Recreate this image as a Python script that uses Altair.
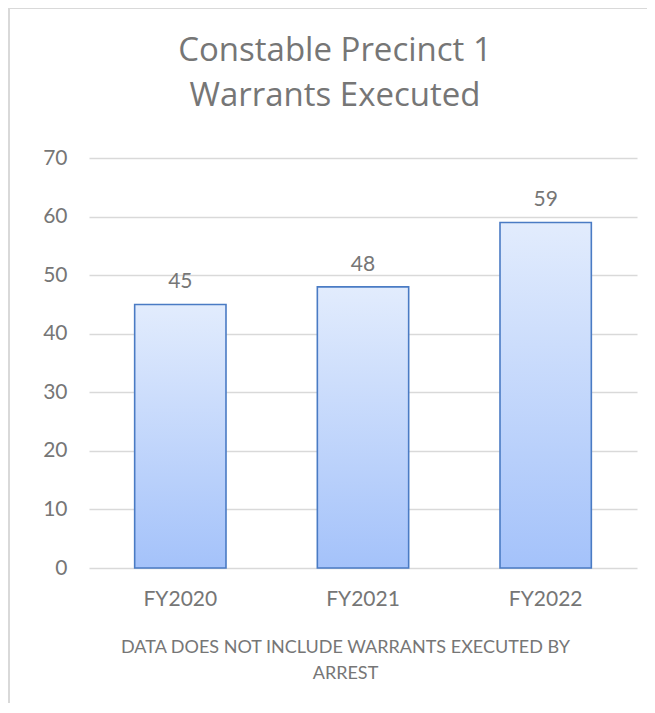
import altair as alt
import pandas as pd

years = ["FY2020", "FY2021", "FY2022"]
warrants = [45, 48, 59]
y_ticks = [0, 10, 20, 30, 40, 50, 60, 70]
title_lines = ["Constable Precinct 1", "Warrants Executed"]
note_lines = ["DATA DOES NOT INCLUDE WARRANTS EXECUTED BY", "ARREST"]

df = pd.DataFrame({"year": years, "value": warrants})

W, H = 548, 410
TEXT = "#767676"
FONT = "Lato"

gradient = alt.Gradient(
    gradient="linear",
    x1=0, x2=0, y1=0, y2=1,
    stops=[
        alt.GradientStop(color="#e2ecfd", offset=0),
        alt.GradientStop(color="#a4c2fa", offset=1),
    ],
)

x_enc = alt.X(
    "year:N",
    sort=years,
    scale=alt.Scale(paddingInner=0.5, paddingOuter=0.25),
    axis=alt.Axis(
        title=note_lines,
        titleFont=FONT, titleFontSize=18, titleFontWeight="normal", titleColor=TEXT,
        titleLineHeight=26, titleBaseline="alphabetic", titleAlign="center",
        titleX=256, titleY=84,
        labelFont=FONT, labelFontSize=21, labelColor=TEXT, labelPadding=20,
        labelAngle=0, ticks=False, domain=False, grid=False,
    ),
)
y_enc = alt.Y(
    "value:Q",
    scale=alt.Scale(domain=[0, 70], nice=False),
    axis=alt.Axis(
        title=None, values=y_ticks,
        labelFont=FONT, labelFontSize=21, labelColor=TEXT, labelPadding=22,
        ticks=False, domain=False, grid=True, gridColor="#d9d9d9", gridWidth=1.5,
        minExtent=60, maxExtent=60,
    ),
)

bars = alt.Chart(df).mark_bar(
    color=gradient, stroke="#4a7bc4", strokeWidth=1.6
).encode(x=x_enc, y=y_enc)

labels = alt.Chart(df).mark_text(
    font=FONT, fontSize=21, color=TEXT, baseline="alphabetic", dy=-16
).encode(x=alt.X("year:N", sort=years), y="value:Q", text="value:Q")

border_left = alt.Chart(df).mark_rule(color="#d9d9d9", strokeWidth=1.5).encode(
    x=alt.value(-80), y=alt.value(-150), y2=alt.value(H + 140)
)
border_top = alt.Chart(df).mark_rule(color="#d9d9d9", strokeWidth=1.5).encode(
    x=alt.value(-80), x2=alt.value(W + 20), y=alt.value(-150)
)

chart = alt.layer(border_left, border_top, bars, labels).properties(
    width=W,
    height=H,
    autosize=alt.AutoSizeParams(type="none"),
    padding={"left": 81, "top": 150, "right": 10, "bottom": 135},
    title=alt.TitleParams(
        text=title_lines, font="Open Sans", fontSize=33, fontWeight="normal", color=TEXT,
        lineHeight=45, baseline="alphabetic", anchor="middle", frame="group",
        offset=-132, dx=-28,
    ),
).configure(background="white").configure_view(stroke=None)

chart.save("out.html", embed_options={"renderer": "svg", "actions": False})
